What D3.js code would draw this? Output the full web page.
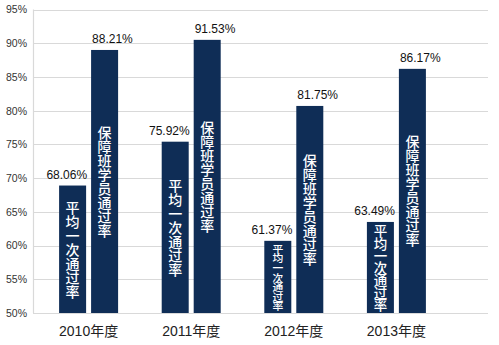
<!DOCTYPE html>
<html>
<head>
<meta charset="utf-8">
<script src="https://cdn.jsdelivr.net/npm/d3@7"></script>
<style>
html,body{margin:0;padding:0;background:#fff;}
svg{display:block;}
</style>
</head>
<body>
<svg id="chart" width="499" height="345"></svg>
<script>
// ---- data ----
const years = ["2010年度", "2011年度", "2012年度", "2013年度"];
const seriesNames = ["平均一次通过率", "保障班学员通过率"];
// bar heights (%)
const avgPassRate = [68.9, 75.4, 60.7, 63.5];
const classPassRate = [89.0, 90.5, 80.7, 86.2];
// value labels printed above bars
const avgLabels = ["68.06%", "75.92%", "61.37%", "63.49%"];
const classLabels = ["88.21%", "91.53%", "81.75%", "86.17%"];
const yTicks = [50, 55, 60, 65, 70, 75, 80, 85, 90, 95];

const rows = years.map((yr, i) => ({
  year: yr,
  bars: [
    {key: seriesNames[0], value: avgPassRate[i], label: avgLabels[i], s: 0},
    {key: seriesNames[1], value: classPassRate[i], label: classLabels[i], s: 1}
  ]
}));

const svg = d3.select("#chart");
const plotL = 33, plotR = 488, plotTop = 9.5, plotBottom = 313;

const y = d3.scaleLinear().domain([50, 95]).range([plotBottom, plotTop]);
const x0 = d3.scaleBand().domain(years).range([37.3, 447.7]).paddingInner(0.425).paddingOuter(0.2125);
const x1 = d3.scaleBand().domain(seriesNames).range([0, x0.bandwidth()]).paddingInner(0.156);

const barColor = "#0f2d56";
const font = "'Liberation Sans', Arial, 'Noto Sans CJK SC', sans-serif";

// gridlines
svg.append("g").selectAll("line").data(yTicks).join("line")
  .attr("x1", plotL).attr("x2", plotR)
  .attr("y1", d => Math.round(y(d)) + 0.5).attr("y2", d => Math.round(y(d)) + 0.5)
  .attr("stroke", "#d9d9d9").attr("stroke-width", 1.2);

// vertical axis line
svg.append("line")
  .attr("x1", plotL + 0.5).attr("x2", plotL + 0.5)
  .attr("y1", y(95)).attr("y2", y(50))
  .attr("stroke", "#d9d9d9").attr("stroke-width", 1.2);

// y axis labels
const yAxis = d3.axisLeft(y).tickValues(yTicks).tickFormat(d => d + "%").tickSize(0).tickPadding(6);
const gy = svg.append("g").attr("transform", `translate(${plotL},0)`).call(yAxis);
gy.select(".domain").remove();
gy.selectAll("text").attr("font-family", font).attr("font-size", 10.5).attr("fill", "#333");

// x axis labels
const xAxis = d3.axisBottom(x0).tickSize(0).tickPadding(13);
const gx = svg.append("g").attr("transform", `translate(0,${plotBottom})`).call(xAxis);
gx.select(".domain").remove();
gx.selectAll("text").attr("font-family", font).attr("font-size", 14).attr("fill", "#222");

// bars
const groups = svg.append("g").selectAll("g").data(rows).join("g")
  .attr("transform", d => `translate(${x0(d.year)},0)`);

groups.selectAll("rect").data(d => d.bars).join("rect")
  .attr("x", d => x1(d.key))
  .attr("y", d => y(d.value))
  .attr("width", x1.bandwidth())
  .attr("height", d => y(50) - y(d.value))
  .attr("fill", barColor);

// value labels
groups.selectAll("text.val").data(d => d.bars).join("text")
  .attr("class", "val")
  .attr("x", d => d.s === 0 ? x1(d.key) + x1.bandwidth() + 1 : x1(d.key) + 1)
  .attr("y", d => y(d.value) - 7)
  .attr("text-anchor", d => d.s === 0 ? "end" : "start")
  .attr("font-family", font).attr("font-size", 12).attr("fill", "#111")
  .text(d => d.label);

// vertical series names inside bars (one vertical text per bar)
groups.selectAll("text.inbar").data(d => d.bars).join("text")
  .attr("class", "inbar")
  .each(function(b) {
    const n = Array.from(b.key).length;
    const h = y(50) - y(b.value);
    const step = Math.min(14, (h - 5) / n);
    const fs = Math.min(14, step + 1.2);
    const cy = (y(b.value) + y(50)) / 2;
    const cx = x1(b.key) + x1.bandwidth() / 2;
    d3.select(this)
      .attr("x", cx)
      .attr("y", cy)
      .attr("text-anchor", "middle")
      .style("writing-mode", "vertical-rl")
      .style("text-orientation", "upright")
      .style("letter-spacing", (step - fs) + "px")
      .attr("font-family", "'Noto Sans CJK SC', sans-serif")
      .attr("font-size", fs)
      .attr("font-weight", 500)
      .attr("fill", "#fff")
      .text(b.key);
  });
</script>
</body>
</html>
